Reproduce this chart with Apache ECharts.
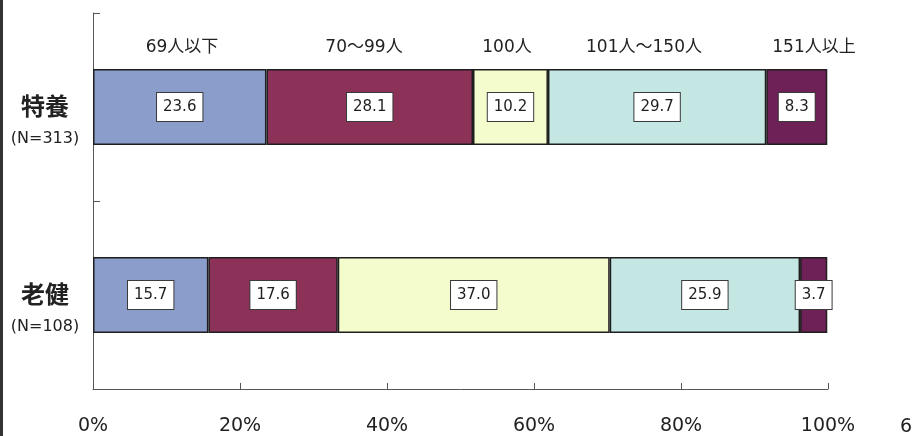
<!DOCTYPE html>
<html>
<head>
<meta charset="utf-8">
<script src="https://cdn.jsdelivr.net/npm/echarts@6/dist/echarts.min.js"></script>
<style>
  html, body { margin: 0; padding: 0; background: #ffffff; }
  #chart { width: 912px; height: 436px; }
</style>
</head>
<body>
<div id="chart"></div>
<script>
// Facility groups (rows) and their respondent counts
const categories = ['特養', '老健'];
const sampleSizes = [313, 108];

// Capacity bands (stacked segments)
const seriesNames = ['69人以下', '70〜99人', '100人', '101人〜150人', '151人以上'];

// Share of facilities in each band (%), one value per row
const band69 = [23.6, 15.7];
const band70to99 = [28.1, 17.6];
const band100 = [10.2, 37.0];
const band101to150 = [29.7, 25.9];
const band151 = [8.3, 3.7];

const seriesValues = [band69, band70to99, band100, band101to150, band151];
const seriesColors = ['#8b9dcb', '#8c3157', '#f4fbcc', '#c5e7e3', '#6d2157'];

// Axis tick values
const xTicks = [0, 20, 40, 60, 80, 100];

// Wide Latin digits, CJK glyphs from Noto
const FONT = '"DejaVu Sans", "Noto Sans CJK JP", sans-serif';
const CJK = '"Noto Sans CJK JP", sans-serif';

const chart = echarts.init(document.getElementById('chart'), null, { renderer: 'canvas' });

const series = seriesNames.map((name, i) => ({
  name: name,
  type: 'bar',
  stack: 'total',
  barWidth: 76,
  data: seriesValues[i],
  itemStyle: {
    color: seriesColors[i],
    borderColor: '#1e1e1e',
    borderWidth: 1.5
  },
  label: {
    show: true,
    position: 'inside',
    formatter: p => p.value.toFixed(1),
    fontFamily: FONT,
    fontSize: 15,
    color: '#1e1e1e',
    backgroundColor: '#ffffff',
    borderColor: '#3a3a3a',
    borderWidth: 1,
    padding: [7, 6, 6, 6]
  },
  emphasis: { disabled: true }
}));

// Band headers above the top row
const headerX = [182, 364, 507, 644, 814];
const headers = seriesNames.map((name, i) => ({
  type: 'text',
  x: headerX[i],
  y: 48,
  style: {
    text: name,
    font: '17px ' + FONT,
    fill: '#222222',
    align: 'center',
    verticalAlign: 'middle'
  }
}));

chart.setOption({
  animation: false,
  backgroundColor: '#ffffff',
  grid: { left: 93, right: 84, top: 13, bottom: 47 },
  xAxis: {
    type: 'value',
    min: 0,
    max: 100,
    interval: 20,
    axisLine: { show: true, lineStyle: { color: '#555555', width: 1 } },
    axisTick: { show: true, inside: true, length: 6, lineStyle: { color: '#555555' } },
    splitLine: { show: false },
    axisLabel: {
      margin: 28,
      fontFamily: FONT,
      fontSize: 19,
      color: '#222222',
      formatter: v => (xTicks.indexOf(v) >= 0 ? v + '%' : '')
    }
  },
  yAxis: {
    type: 'category',
    inverse: true,
    data: categories,
    axisLine: { show: true, lineStyle: { color: '#555555', width: 1 } },
    axisTick: { show: true, inside: true, length: 7, lineStyle: { color: '#555555' } },
    axisLabel: {
      margin: 48,
      align: 'center',
      formatter: (value, idx) => '{s| }\n{a|' + value + '}\n{b|(N=' + sampleSizes[idx] + ')}',
      rich: {
        s: { fontSize: 10, lineHeight: 34 },
        a: { fontFamily: CJK, fontSize: 24, fontWeight: 'bold', color: '#222222', lineHeight: 30, align: 'center' },
        b: { fontFamily: FONT, fontSize: 16, color: '#222222', lineHeight: 36, align: 'center' }
      }
    }
  },
  graphic: [
    // scanned page edge on the left
    { type: 'rect', shape: { x: 0, y: 0, width: 3, height: 436 }, style: { fill: '#333333' } },
    // page number at the right margin
    { type: 'text', x: 906, y: 427, style: { text: '6', font: '19px ' + FONT, fill: '#222222', align: 'center', verticalAlign: 'middle' } }
  ].concat(headers),
  series: series
});
</script>
</body>
</html>
